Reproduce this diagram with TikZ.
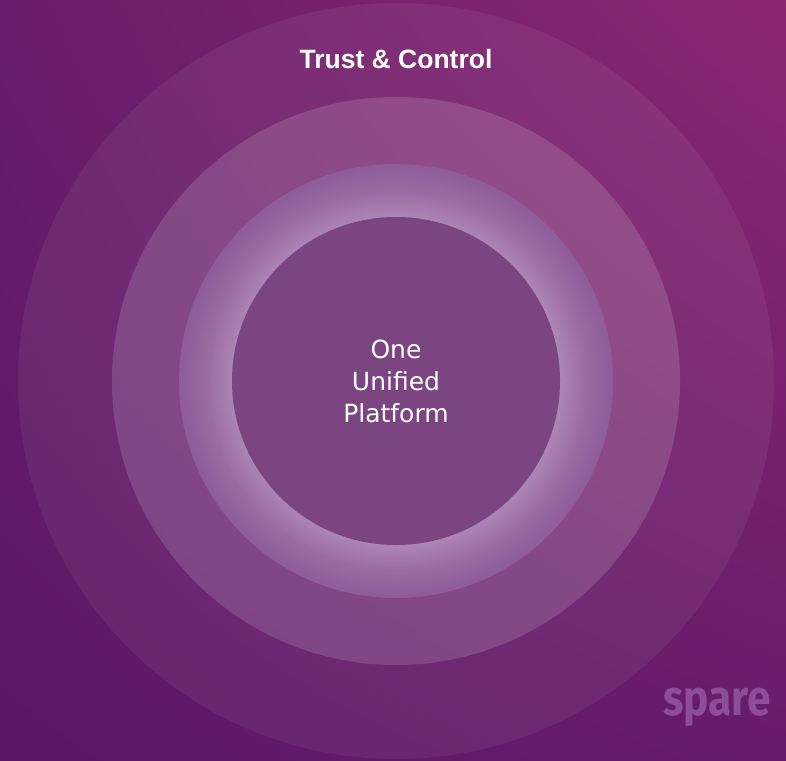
\documentclass[tikz,border=0pt]{standalone}
\usepackage{fontspec}
\setmainfont{Liberation Sans}
\newfontfamily\corefont{DejaVu Sans}
\newfontfamily\logofont{Fira Sans}
\usepackage{tikz}
\usetikzlibrary{positioning,shadings}
\usepackage{xcolor}
\definecolor{BgLowLeft}{HTML}{5B1867}
\definecolor{BgUpLeft}{HTML}{671D6B}
\definecolor{BgUpRight}{HTML}{8C2772}
\definecolor{BgLowRight}{HTML}{661C6B}
\definecolor{GlowIn}{HTML}{B08ABA}
\definecolor{GlowMid}{HTML}{9D6FA6}
\definecolor{GlowOut}{HTML}{8F5E9B}
\definecolor{Core}{HTML}{7B4581}
\definecolor{Logo}{HTML}{8D4D98}
\pgfdeclareradialshading{ringglow}{\pgfpoint{0bp}{0bp}}{color(0bp)=(GlowIn); color(18.9bp)=(GlowIn); color(21.8bp)=(GlowMid); color(25bp)=(GlowOut); color(50bp)=(GlowOut)}

\begin{document}
\begin{tikzpicture}[x=1pt,y=-1pt,
  ring/.style={fill=white,fill opacity=#1},
  title/.style={anchor=base,text=white,font=\bfseries\fontsize{26.5}{30}\selectfont},
  core text/.style={align=center,text=white,font=\corefont\fontsize{25}{32}\selectfont},
  logo/.style={anchor=base,text=Logo,xscale=0.85,transform shape,font=\logofont\bfseries\fontsize{50}{50}\selectfont}]
\useasboundingbox (0,0) rectangle (786,760);
\shade[lower left=BgLowLeft,upper left=BgUpLeft,upper right=BgUpRight,lower right=BgLowRight] (0,0) rectangle (786,760);
%
% rings
\coordinate (centre) at (396,381);
\fill[ring=0.06] (centre) circle (378pt);
\fill[ring=0.14] (centre) circle (284pt);
\shade[shading=ringglow,fill opacity=0.92] (centre) circle (217pt);
\fill[Core] (centre) circle (164pt);
%
% labels
\node[title] (trust) at (396,68) {Trust \& Control};
\node[core text] (platform) at (centre) {One\\Unified\\Platform};
\node[logo] (spare) at (717,715) {spare};
%
\end{tikzpicture}
\end{document}
